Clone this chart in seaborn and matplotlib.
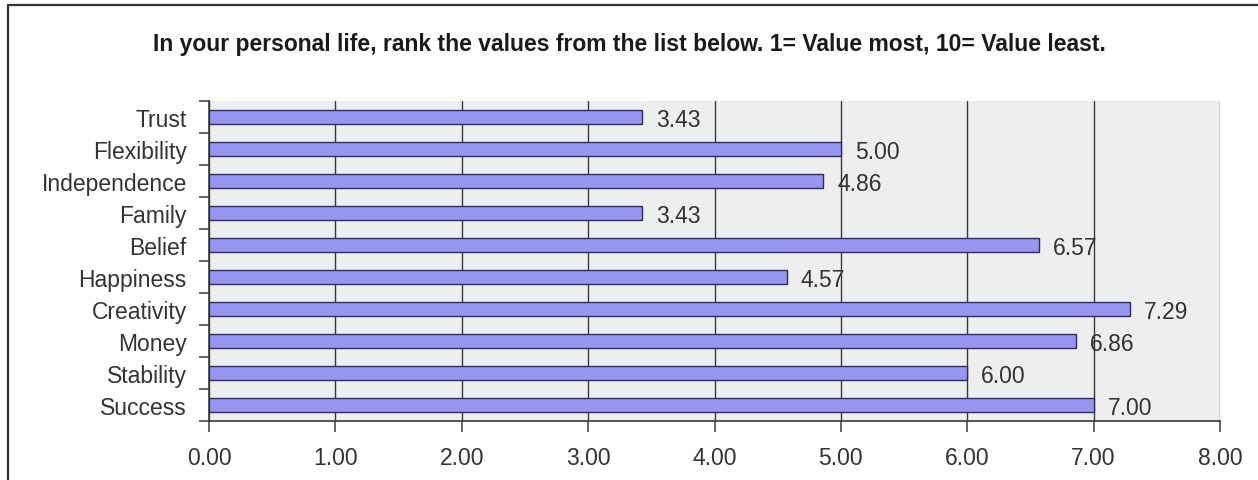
import matplotlib
matplotlib.use("Agg")
import matplotlib.pyplot as plt
from matplotlib.lines import Line2D
from matplotlib.ticker import FixedLocator, MultipleLocator, FormatStrFormatter
import seaborn as sns
import pandas as pd

# Survey: average rank per value (1 = value most, 10 = value least)
categories = ["Trust", "Flexibility", "Independence", "Family", "Belief",
              "Happiness", "Creativity", "Money", "Stability", "Success"]
avg_rank = [3.43, 5.00, 4.86, 3.43, 6.57, 4.57, 7.29, 6.86, 6.00, 7.00]
x_ticks = [0, 1, 2, 3, 4, 5, 6, 7, 8]
title = "In your personal life, rank the values from the list below. 1= Value most, 10= Value least."

df = pd.DataFrame({"value": categories, "rank": avg_rank})

sns.set_theme(style="white")
plt.rcParams["font.family"] = ["Liberation Sans", "DejaVu Sans"]

text_color = "#333333"
label_size = 16.5
fig = plt.figure(figsize=(12.58, 4.81), dpi=100)
fig.patch.set_facecolor("white")
ax = fig.add_axes([209 / 1258, 1 - 422 / 481, (1220 - 209) / 1258, (422 - 102) / 481])
ax.set_facecolor("#eeeeee")

sns.barplot(data=df, x="rank", y="value", order=categories, orient="h",
            color="#9797f2", edgecolor="#2e2e5c", linewidth=1.0,
            width=0.42, saturation=1, ax=ax, zorder=3)

ax.set_xlim(x_ticks[0], x_ticks[-1])
ax.set_ylim(len(categories) - 0.5, -0.5)
ax.xaxis.set_major_locator(FixedLocator(x_ticks))
ax.xaxis.set_major_formatter(FormatStrFormatter("%.2f"))
ax.set_xlabel("")
ax.set_ylabel("")

# vertical grid lines only
ax.grid(axis="x", color="#3a3a3a", linewidth=1.0, zorder=1)
ax.grid(axis="y", visible=False)
ax.set_axisbelow(True)

# spines: left and bottom only
for side in ("top", "right"):
    ax.spines[side].set_visible(False)
for side in ("left", "bottom"):
    ax.spines[side].set_color("#3a3a3a")
    ax.spines[side].set_linewidth(1.2)

# category ticks sit between bars
ax.yaxis.set_minor_locator(MultipleLocator(1, offset=0.5))
ax.tick_params(axis="y", which="major", length=0, pad=16,
               labelsize=label_size, labelcolor=text_color)
ax.tick_params(axis="y", which="minor", left=True, length=7,
               width=1.1, color="#3a3a3a", direction="out")
ax.tick_params(axis="x", which="major", bottom=True, length=8, width=1.1,
               color="#3a3a3a", direction="out", pad=10,
               labelsize=label_size, labelcolor=text_color)

# value labels after each bar
for i, v in enumerate(avg_rank):
    ax.annotate(f"{v:.2f}", xy=(v, i), xytext=(10, -1.5),
                textcoords="offset points", ha="left", va="center",
                fontsize=label_size, color=text_color, zorder=5)

fig.text(0.5, 1 - 45 / 481, title, ha="center", va="center",
         fontsize=16.5, fontweight="bold", color="#1a1a1a")

# outer frame (top and left edges)
fig.add_artist(Line2D([7.5 / 1258, 7.5 / 1258], [0, 1 - 6 / 481],
                      transform=fig.transFigure, color="#333333", lw=1.6))
fig.add_artist(Line2D([7.5 / 1258, 1], [1 - 6 / 481, 1 - 6 / 481],
                      transform=fig.transFigure, color="#333333", lw=1.6))

fig.savefig("out.png", dpi=100)
